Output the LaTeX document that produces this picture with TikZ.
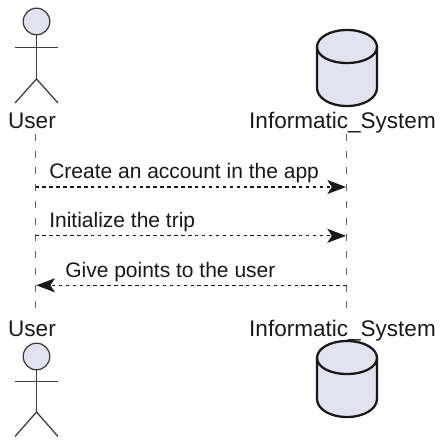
\documentclass[tikz,border=0pt]{standalone}
\usepackage{fontspec}
\setmainfont{Liberation Sans}
\usetikzlibrary{arrows.meta}
\definecolor{partfill}{RGB}{226,226,240}
\definecolor{partline}{RGB}{24,24,24}
\tikzset{
  actorline/.style={draw={rgb,255:red,60;green,60;blue,60},line width=0.95pt},
  dbline/.style={draw=partline,line width=1.7pt,line join=round},
  lifeline/.style={draw={rgb,255:red,100;green,100;blue,100},line width=0.9pt,dash pattern=on 5.25pt off 7.3pt},
  message/.style={draw=partline,line width=1pt,dash pattern=on 2.6pt off 2.6pt,-{Stealth[length=14pt,width=10.5pt,inset=3.4pt]}},
  partname/.style={inner sep=0pt,text=partline,font=\fontsize{16.9}{16.9}\selectfont},
  msgtext/.style={anchor=base west,inner sep=0pt,text=partline,font=\fontsize{15.75}{15.75}\selectfont}
}
\begin{document}
\begin{tikzpicture}[x=0.75pt,y=0.75pt,yscale=-1,xscale=1]
        \useasboundingbox (0,0) rectangle (447,447);

        %Actor top
        \draw [actorline,fill=partfill] (36.5,21.5) circle [radius=13.3];
        \draw [actorline] (36.5,34.8) -- (36.5,79);
        \draw [actorline] (15,47.5) -- (58,47.5);
        \draw [actorline] (15,103) -- (36.5,79) -- (58,103);
        %Actor bottom
        \draw [actorline,fill=partfill] (36.5,356.5) circle [radius=13.3];
        \draw [actorline] (36.5,369.8) -- (36.5,412);
        \draw [actorline] (15,381.5) -- (58,381.5);
        \draw [actorline] (15,436.5) -- (36.5,412) -- (58,436.5);

        %Database top
        \draw [dbline,fill=partfill] (317,47) .. controls (317,37.5) and (330,30) .. (347,30) .. controls (364,30) and (377,37.5) .. (377,47) -- (377,88) .. controls (377,98) and (364,106) .. (347,106) .. controls (330,106) and (317,98) .. (317,88) -- cycle;
        \draw [dbline] (317,47) .. controls (317,56) and (330,63) .. (347,63) .. controls (364,63) and (377,56) .. (377,47);
        %Database bottom
        \draw [dbline,fill=partfill] (317,358) .. controls (317,348.5) and (330,341) .. (347,341) .. controls (364,341) and (377,348.5) .. (377,358) -- (377,399) .. controls (377,409) and (364,417) .. (347,417) .. controls (330,417) and (317,409) .. (317,399) -- cycle;
        \draw [dbline] (317,358) .. controls (317,367) and (330,374) .. (347,374) .. controls (364,374) and (377,367) .. (377,358);

        % Text Node
        \node (usertop) [partname,anchor=base] at (32,128.5) {User};
        % Text Node
        \node (systop) [partname,anchor=base] at (342.5,128.5) {Informatic\_System};
        % Text Node
        \node (userbot) [partname,anchor=base] at (32,336) {User};
        % Text Node
        \node (sysbot) [partname,anchor=base] at (342.5,336) {Informatic\_System};

        %Lifelines
        \coordinate (userstart) at (35.5,134);
        \coordinate (userend) at (35.5,315);
        \coordinate (sysstart) at (346.5,134);
        \coordinate (sysend) at (346.5,315);
        \draw [lifeline] (userstart) -- (userend);
        \draw [lifeline] (sysstart) -- (sysend);

        %Messages
        \coordinate (usera) at (35.5,187);
        \coordinate (sysa) at (346,187);
        \coordinate (userb) at (35.5,235.8);
        \coordinate (sysb) at (346,235.8);
        \coordinate (userc) at (36.3,285.3);
        \coordinate (sysc) at (346.5,285.3);
        \draw [message] (usera) -- (sysa);
        \draw [message] (userb) -- (sysb);
        \draw [message] (sysc) -- (userc);

        % Text Node
        \node (createmsg) [msgtext] at (49,178.5) {Create an account in the app};
        % Text Node
        \node (initmsg) [msgtext] at (49,227.8) {Initialize the trip};
        % Text Node
        \node (pointsmsg) [msgtext] at (65,277.8) {Give points to the user};
\end{tikzpicture}
\end{document}
